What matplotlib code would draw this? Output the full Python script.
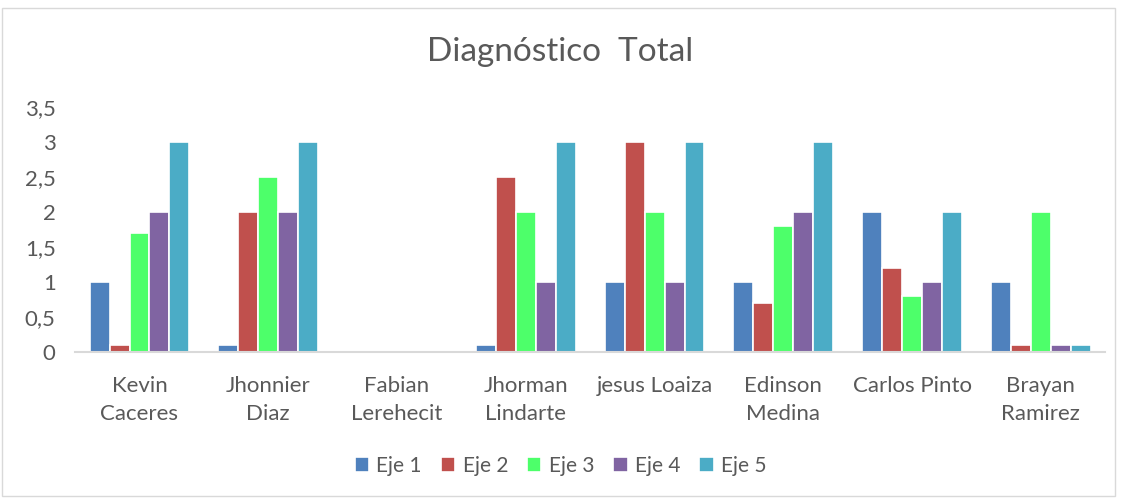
import matplotlib.pyplot as plt
import numpy as np
from matplotlib.patches import Rectangle
from matplotlib.ticker import FuncFormatter

categories = ["Kevin\nCaceres", "Jhonnier\nDiaz", "Fabian\nLerehecit", "Jhorman\nLindarte",
              "jesus Loaiza", "Edinson\nMedina", "Carlos Pinto", "Brayan\nRamirez"]
series_names = ["Eje 1", "Eje 2", "Eje 3", "Eje 4", "Eje 5"]
eje1 = [1, 0.1, 0, 0.1, 1, 1, 2, 1]
eje2 = [0.1, 2, 0, 2.5, 3, 0.7, 1.2, 0.1]
eje3 = [1.7, 2.5, 0, 2, 2, 1.8, 0.8, 2]
eje4 = [2, 2, 0, 1, 1, 2, 1, 0.1]
eje5 = [3, 3, 0, 3, 3, 3, 2, 0.1]
colors = ["#4f81bd", "#c0504d", "#4dff6a", "#8064a2", "#4bacc6"]

plt.rcParams['font.family'] = ['Lato', 'DejaVu Sans']
txt = "#595959"

fig = plt.figure(figsize=(11.21, 5), dpi=100)
ax = fig.add_axes([0.067, 0.296, 0.919, 0.49])

x = np.arange(len(categories))
w = 0.155
for i, (vals, name) in enumerate(zip([eje1, eje2, eje3, eje4, eje5], series_names)):
    ax.bar(x + (i - 2) * w, vals, w, color=colors[i], edgecolor="white", linewidth=1.2, label=name)

ax.set_xlim(-0.5, len(categories) - 0.5)
ax.set_ylim(0, 3.5)
ax.set_yticks(np.arange(0, 3.51, 0.5))
ax.yaxis.set_major_formatter(FuncFormatter(lambda v, p: f"{v:g}".replace(".", ",")))
ax.set_xticks(x)
ax.set_xticklabels(categories, linespacing=1.5)
ax.tick_params(axis='both', length=0, colors=txt, labelsize=16)
ax.tick_params(axis='x', pad=17)
ax.tick_params(axis='y', pad=14)
for s in ["top", "right", "left"]:
    ax.spines[s].set_visible(False)
ax.spines["bottom"].set_color("#d9d9d9")
ax.spines["bottom"].set_linewidth(1.5)

fig.text(0.5, 0.896, "Diagnóstico  Total", ha="center", va="center", fontsize=24, color=txt)

fig.legend(loc="center", bbox_to_anchor=(0.5, 0.068), ncol=5, frameon=False, fontsize=15,
           labelcolor=txt, handlelength=0.7, handleheight=0.7, handletextpad=0.35, columnspacing=0.9)

fig.patches.append(Rectangle((0.002, 0.008), 0.993, 0.976, transform=fig.transFigure,
                             fill=False, edgecolor="#d9d9d9", linewidth=1))

fig.savefig("out.png", dpi=100)
